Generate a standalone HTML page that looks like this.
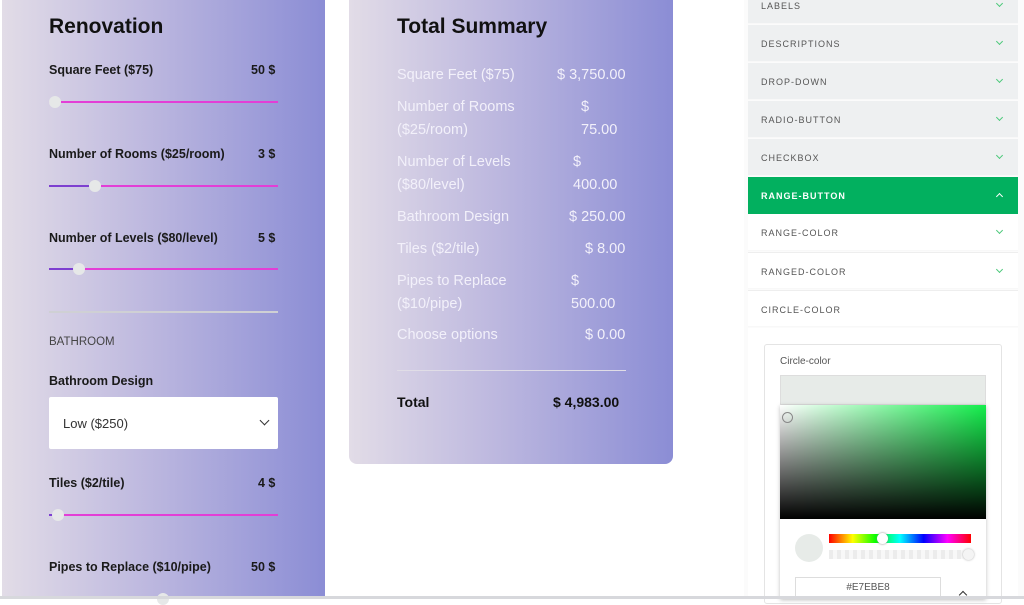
<!DOCTYPE html>
<html><head><meta charset="utf-8"><style>
*{box-sizing:border-box;margin:0;padding:0}
body{width:1024px;height:599px;overflow:hidden;background:#fff;font-family:"Liberation Sans",sans-serif;position:relative}
.a{position:absolute}
.grad{background:linear-gradient(90deg,#e2dce7 0%,#bdb8df 45%,#8b8dd5 100%)}
.lbl{position:absolute;left:49px;font-size:12.5px;font-weight:bold;color:#1a1a1a}
.val{position:absolute;right:48px;font-size:12.5px;font-weight:bold;color:#1a1a1a}
.track{position:absolute;left:49px;width:229px;height:2px;background:#e33ed6}
.fill{position:absolute;left:0;top:0;height:2px;background:#7d3fd0}
.thumb{position:absolute;top:-5px;width:12px;height:12px;border-radius:50%;background:#e6e8e8}
.sum{position:absolute;left:397px;color:#f2f0fa;font-size:14.5px;line-height:23px}
.sv{position:absolute;color:#f2f0fa;font-size:14.5px;line-height:23px}
.item{position:absolute;left:748px;width:270px;height:37px;background:#eef0f1;font-size:9px;letter-spacing:1px;color:#555;padding:14px 0 0 13px;border-bottom:1px solid #f8f8f8}
.chev{position:absolute;right:16px;top:14px;width:5px;height:5px;border-right:1px solid #4cc97a;border-bottom:1px solid #4cc97a;transform:rotate(45deg)}
.chev.up{transform:rotate(-135deg);border-color:#fff;top:17px}
</style></head><body>
<div class="a grad" style="left:2px;top:0;width:323px;height:599px"></div>
<div class="a" style="left:49px;top:15px;font-size:21px;font-weight:bold;color:#111">Renovation</div>

<div class="lbl" style="top:63px">Square Feet ($75)</div>
<div class="val" style="top:63px;left:251px">50 $</div>
<div class="track" style="top:101px"><div class="thumb" style="left:0"></div></div>

<div class="lbl" style="top:147px">Number of Rooms ($25/room)</div>
<div class="val" style="top:147px;left:258px">3 $</div>
<div class="track" style="top:185px"><div class="fill" style="width:44px"></div><div class="thumb" style="left:40px"></div></div>

<div class="lbl" style="top:231px">Number of Levels ($80/level)</div>
<div class="val" style="top:231px;left:258px">5 $</div>
<div class="track" style="top:268px"><div class="fill" style="width:28px"></div><div class="thumb" style="left:24px"></div></div>

<div class="a" style="left:49px;top:311px;width:229px;height:2px;background:#cfd0d4"></div>
<div class="a" style="left:49px;top:336px;font-size:11.5px;color:#444">BATHROOM</div>
<div class="lbl" style="top:374px">Bathroom Design</div>
<div class="a" style="left:49px;top:397px;width:229px;height:52px;background:#fff;border-radius:2px;font-size:13px;color:#333;padding:19px 0 0 14px">Low ($250)<span style="position:absolute;right:10px;top:20px;width:7px;height:7px;border-right:1.5px solid #333;border-bottom:1.5px solid #333;transform:rotate(45deg)"></span></div>

<div class="lbl" style="top:476px">Tiles ($2/tile)</div>
<div class="val" style="top:476px;left:258px">4 $</div>
<div class="track" style="top:514px"><div class="fill" style="width:4px"></div><div class="thumb" style="left:3px"></div></div>

<div class="lbl" style="top:560px">Pipes to Replace ($10/pipe)</div>
<div class="val" style="top:560px;left:251px">50 $</div>
<div class="thumb a" style="left:157px;top:593px"></div>

<div class="a grad" style="left:349px;top:0;width:324px;height:464px;border-radius:0 0 8px 8px"></div>
<div class="a" style="left:397px;top:15px;font-size:21px;font-weight:bold;color:#111">Total Summary</div>
<div class="sum" style="top:64px">Square Feet ($75)</div>
<div class="sv" style="top:64px;left:557px">$ 3,750.00</div>
<div class="sum" style="top:96px">Number of Rooms<br>($25/room)</div>
<div class="sv" style="top:96px;left:581px">$<br>75.00</div>
<div class="sum" style="top:151px">Number of Levels<br>($80/level)</div>
<div class="sv" style="top:151px;left:573px">$<br>400.00</div>
<div class="sum" style="top:206px">Bathroom Design</div>
<div class="sv" style="top:206px;left:569px">$ 250.00</div>
<div class="sum" style="top:238px">Tiles ($2/tile)</div>
<div class="sv" style="top:238px;left:585px">$ 8.00</div>
<div class="sum" style="top:270px">Pipes to Replace<br>($10/pipe)</div>
<div class="sv" style="top:270px;left:571px">$<br>500.00</div>
<div class="sum" style="top:324px">Choose options</div>
<div class="sv" style="top:324px;left:585px">$ 0.00</div>
<div class="a" style="left:397px;top:370px;width:229px;height:1px;background:#e0dde6"></div>
<div class="a" style="left:397px;top:394px;font-size:14px;font-weight:bold;color:#111">Total</div>
<div class="a" style="left:553px;top:394px;font-size:14px;font-weight:bold;color:#111">$ 4,983.00</div>

<div class="a" style="left:744px;top:0;width:280px;height:599px;background:#fbfbfb"></div>
<div class="item" style="top:-13px">LABELS<span class="chev"></span></div>
<div class="item" style="top:25px">DESCRIPTIONS<span class="chev"></span></div>
<div class="item" style="top:63px">DROP-DOWN<span class="chev"></span></div>
<div class="item" style="top:101px">RADIO-BUTTON<span class="chev"></span></div>
<div class="item" style="top:139px">CHECKBOX<span class="chev"></span></div>
<div class="item" style="top:177px;background:#02b05f;color:#fff;font-weight:bold;border:none">RANGE-BUTTON<span class="chev up"></span></div>
<div class="item" style="top:214px;background:#fff">RANGE-COLOR<span class="chev"></span></div>
<div class="item" style="top:252px;background:#fff;border-top:1px solid #eee">RANGED-COLOR<span class="chev"></span></div>
<div class="item" style="top:290px;background:#fff;border-top:1px solid #eee">CIRCLE-COLOR</div>
<div class="a" style="left:748px;top:328px;width:270px;height:271px;background:#fff"></div>
<div class="a" style="left:764px;top:344px;width:238px;height:260px;border:1px solid #e4e4e4;border-radius:3px;background:#fff"></div>
<div class="a" style="left:780px;top:356px;font-size:10px;color:#555">Circle-color</div>
<div class="a" style="left:780px;top:375px;width:206px;height:30px;background:#e7ebe8;border:1px solid #ddd"></div>
<div class="a" style="left:780px;top:405px;width:206px;height:194px;background:#fff;box-shadow:0 1px 4px rgba(0,0,0,.25)"></div>
<div class="a" style="left:780px;top:405px;width:206px;height:114px;background:linear-gradient(0deg,#000,rgba(0,0,0,0)),linear-gradient(90deg,#fff,#14ee4c)"></div>
<div class="a" style="left:782px;top:412px;width:11px;height:11px;border-radius:50%;border:1px solid #888"></div>
<div class="a" style="left:795px;top:534px;width:28px;height:28px;border-radius:50%;background:#e7ebe8"></div>
<div class="a" style="left:829px;top:534px;width:142px;height:9px;background:linear-gradient(90deg,#f00,#ff0,#0f0,#0ff,#00f,#f0f,#f00)"></div>
<div class="a" style="left:877px;top:533px;width:11px;height:11px;border-radius:50%;background:#fff;box-shadow:0 0 2px #888"></div>
<div class="a" style="left:829px;top:550px;width:142px;height:9px;background:repeating-linear-gradient(90deg,#ececec 0 4px,#f8f8f8 4px 8px)"></div>
<div class="a" style="left:963px;top:549px;width:11px;height:11px;border-radius:50%;background:#f4f4f4;box-shadow:0 0 2px #aaa"></div>
<div class="a" style="left:795px;top:577px;width:146px;height:22px;border:1px solid #ddd;font-size:10px;color:#555;text-align:center;padding-top:4px">#E7EBE8</div>
<div class="a" style="left:960px;top:592px;width:6px;height:6px;border-left:1.5px solid #333;border-top:1.5px solid #333;transform:rotate(45deg)"></div>
<div class="a" style="left:0;top:596px;width:1024px;height:3px;background:#d7d8dc"></div>
</body></html>
